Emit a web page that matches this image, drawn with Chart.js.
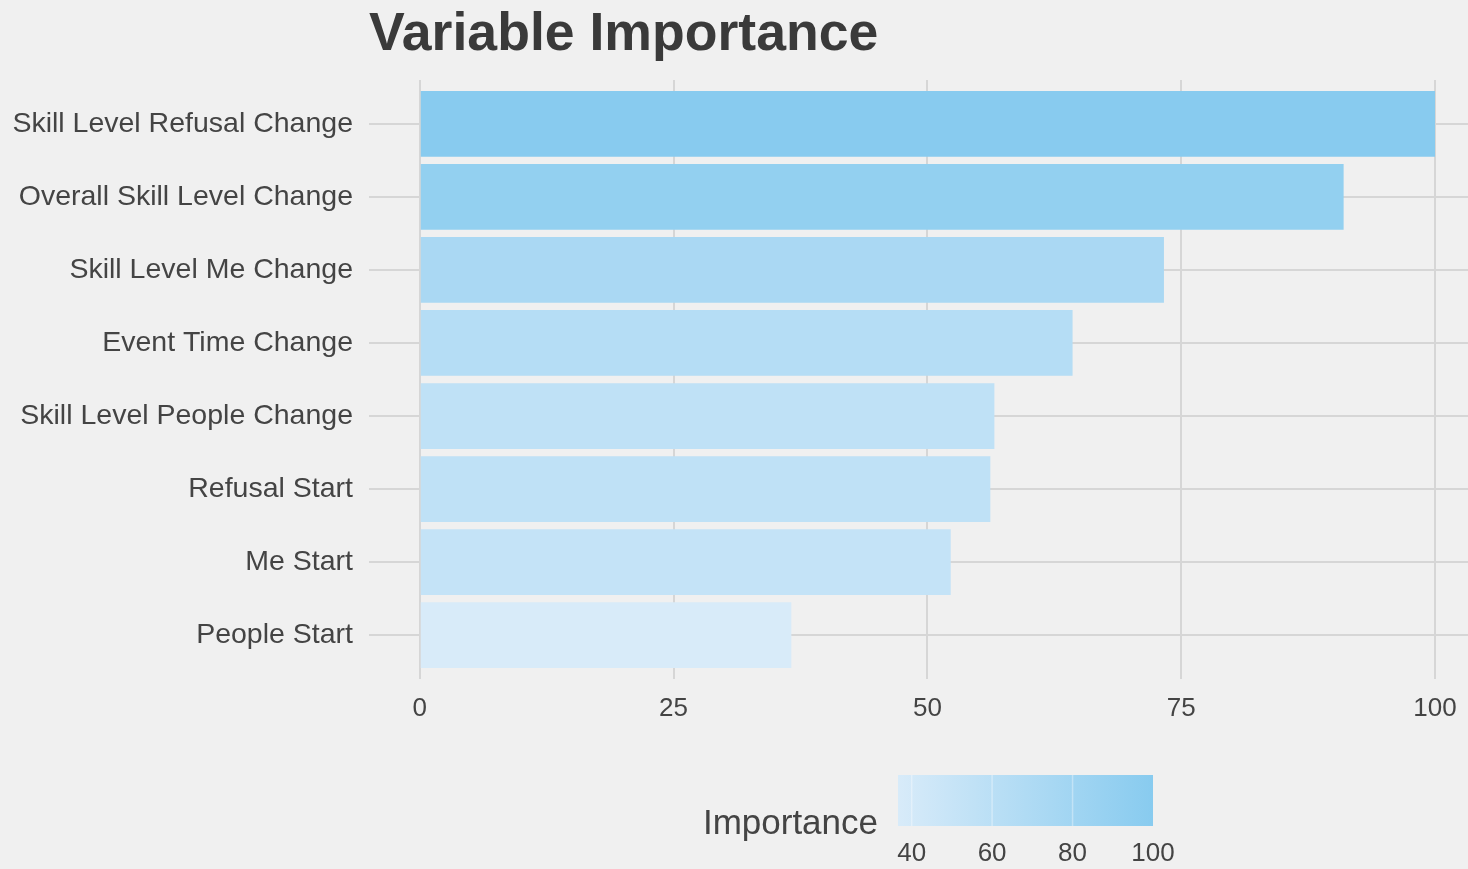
<!DOCTYPE html>
<html>
<head>
<meta charset="utf-8">
<title>Variable Importance</title>
<script src="https://cdn.jsdelivr.net/npm/chart.js@4/dist/chart.umd.min.js"></script>
<style>
  html, body { margin: 0; padding: 0; background: #f0f0f0; overflow: hidden; }
  #wrap { position: relative; width: 1468px; height: 869px; }
</style>
</head>
<body>
<div id="wrap"><canvas id="chart" width="1468" height="869"></canvas></div>
<script>
// --- Data ---
const VARIABLES = [
  "Skill Level Refusal Change",
  "Overall Skill Level Change",
  "Skill Level Me Change",
  "Event Time Change",
  "Skill Level People Change",
  "Refusal Start",
  "Me Start",
  "People Start",
];
const IMPORTANCE = [100, 91.0, 73.3, 64.3, 56.6, 56.2, 52.3, 36.6];
const X_TICKS = [0, 25, 50, 75, 100];
const LEGEND_TICKS = [40, 60, 80, 100];

const LOW_COLOR = [216, 235, 249];
const HIGH_COLOR = [136, 203, 239];
const TEXT_COLOR = "#444444";
const GRID_COLOR = "#d6d6d6";
const FONT = "'Liberation Sans', Arial, Helvetica, sans-serif";

const vMin = Math.min(...IMPORTANCE);
const vMax = Math.max(...IMPORTANCE);

function fillFor(v) {
  const t = (v - vMin) / (vMax - vMin);
  const c = LOW_COLOR.map((lo, i) => Math.round(lo + (HIGH_COLOR[i] - lo) * t));
  return `rgb(${c[0]}, ${c[1]}, ${c[2]})`;
}

// --- Colourbar legend, drawn under the plot ---
const colorbarLegend = {
  id: "colorbarLegend",
  afterDraw(chart) {
    const ctx = chart.ctx;
    const barLeft = 898, barRight = 1153, barTop = 775, barBottom = 826;
    const pxPerUnit = (barRight - barLeft) / (vMax - vMin);
    const xFor = (v) => barLeft + (v - vMin) * pxPerUnit;

    ctx.save();
    const grad = ctx.createLinearGradient(barLeft, 0, barRight, 0);
    grad.addColorStop(0, fillFor(vMin));
    grad.addColorStop(1, fillFor(vMax));
    ctx.fillStyle = grad;
    ctx.fillRect(barLeft, barTop, barRight - barLeft, barBottom - barTop);

    // faint white tick marks inside the bar
    ctx.strokeStyle = "rgba(255,255,255,0.35)";
    ctx.lineWidth = 1.5;
    LEGEND_TICKS.forEach((t) => {
      const x = xFor(t);
      if (x > barLeft + 2 && x < barRight - 2) {
        ctx.beginPath();
        ctx.moveTo(x, barTop);
        ctx.lineTo(x, barBottom);
        ctx.stroke();
      }
    });

    ctx.fillStyle = TEXT_COLOR;
    ctx.font = `26px ${FONT}`;
    ctx.textAlign = "center";
    ctx.textBaseline = "middle";
    LEGEND_TICKS.forEach((t) => ctx.fillText(String(t), xFor(t), 854));

    ctx.font = `35px ${FONT}`;
    ctx.textAlign = "right";
    ctx.fillText("Importance", 878, 824);
    ctx.restore();
  },
};

const ctx = document.getElementById("chart").getContext("2d");
new Chart(ctx, {
  type: "bar",
  data: {
    datasets: [
      {
        data: IMPORTANCE.map((v, i) => ({ x: v, y: i + 1 })),
        backgroundColor: IMPORTANCE.map(fillFor),
        borderWidth: 0,
        barPercentage: 0.9,
        categoryPercentage: 1,
      },
    ],
  },
  options: {
    indexAxis: "y",
    responsive: false,
    animation: false,
    layout: { padding: 0 },
    plugins: {
      legend: { display: false },
      tooltip: { enabled: false },
      title: {
        display: true,
        text: "Variable Importance",
        align: "start",
        fullSize: false,
        color: "#3a3a3a",
        font: { family: FONT, size: 53.6, weight: "bold", lineHeight: 1.1 },
        padding: { top: 6, bottom: 15.0 },
      },
    },
    scales: {
      x: {
        type: "linear",
        min: -5,
        max: 103.25,
        afterBuildTicks: (scale) => {
          scale.ticks = X_TICKS.map((v) => ({ value: v }));
        },
        afterFit: (scale) => {
          scale.height = 190;
          scale.paddingLeft = 0;
          scale.paddingRight = 0;
        },
        grid: { color: GRID_COLOR, lineWidth: 2, drawTicks: false },
        border: { display: false },
        ticks: {
          padding: 14,
          color: TEXT_COLOR,
          font: { family: FONT, size: 26 },
          maxRotation: 0,
        },
      },
      y: {
        type: "linear",
        reverse: true,
        offset: false,
        min: 0.4,
        max: 8.6,
        afterBuildTicks: (scale) => {
          scale.ticks = VARIABLES.map((_, i) => ({ value: i + 1 }));
        },
        afterFit: (scale) => {
          scale.width = 369;
        },
        grid: { color: GRID_COLOR, lineWidth: 2, drawTicks: false, offset: false },
        border: { display: false },
        ticks: {
          padding: 16,
          color: TEXT_COLOR,
          font: { family: FONT, size: 28.5 },
          callback: (value) => VARIABLES[Math.round(value) - 1] ?? "",
        },
      },
    },
  },
  plugins: [colorbarLegend],
});
</script>
</body>
</html>
